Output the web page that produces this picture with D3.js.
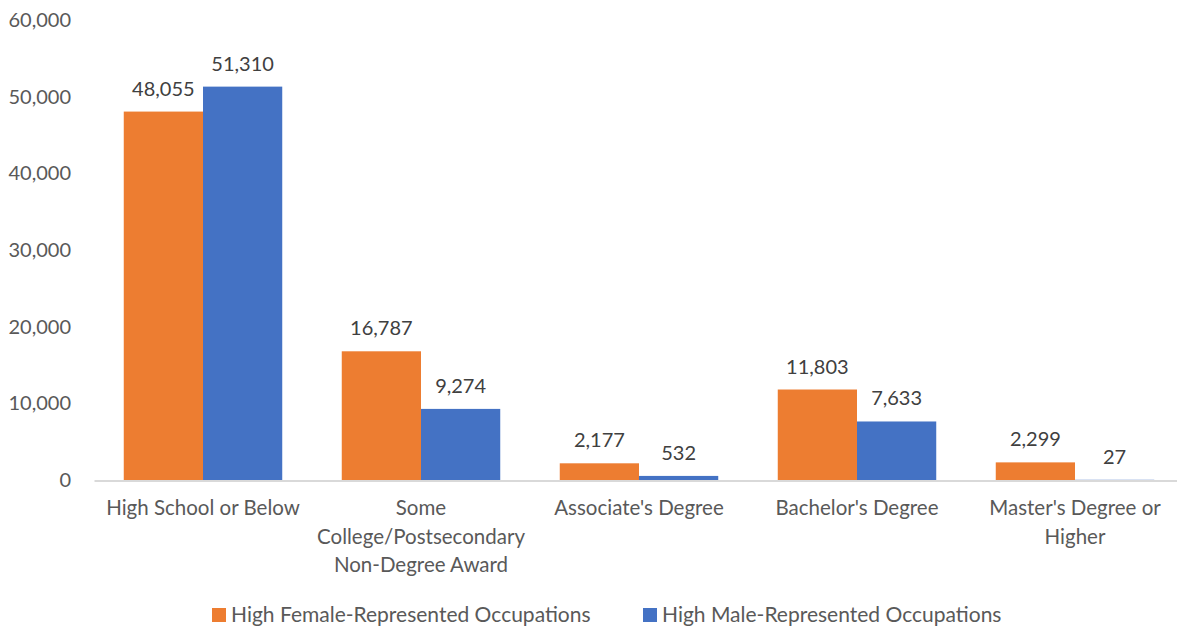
<!DOCTYPE html>
<html>
<head>
<meta charset="utf-8">
<script src="https://cdn.jsdelivr.net/npm/d3@7"></script>
<style>
  body { margin: 0; background: #fff; }
  svg { display: block; font-family: Lato, "Open Sans", sans-serif; }
</style>
</head>
<body>
<script>
// data
const categories = ["High School or Below", "Some College/Postsecondary Non-Degree Award", "Associate's Degree", "Bachelor's Degree", "Master's Degree or Higher"];
const seriesNames = ["High Female-Represented Occupations", "High Male-Represented Occupations"];
const female = [48055, 16787, 2177, 11803, 2299];
const male = [51310, 9274, 532, 7633, 27];
const yTicks = [0, 10000, 20000, 30000, 40000, 50000, 60000];
const colors = ["#ED7D31", "#4472C4"];

const width = 1177;
const height = 628;
const textColor = '#595959';

const svg = d3.select('body')
    .append('svg')
    .attr('width', width)
    .attr('height', height);

const xScale = d3.scaleBand()
    .domain(categories)
    .range([94, 1184])
    .paddingInner(0.273)
    .paddingOuter(0.1365);

const xInner = d3.scaleBand()
    .domain(seriesNames)
    .range([0, xScale.bandwidth()]);

const yScale = d3.scaleLinear()
    .domain([0, 60000])
    .range([480, 20]);

const fmt = d3.format(',');

// y axis, labels only
const yAxis = d3.axisLeft(yScale)
    .tickValues(yTicks)
    .tickSize(0)
    .tickPadding(23)
    .tickFormat(fmt);

const yG = svg.append('g')
    .attr('transform', 'translate(94,0)')
    .call(yAxis);
yG.select('.domain').remove();
yG.selectAll('text')
    .attr('fill', textColor)
    .style('font-size', '20px')
    .style('font-family', 'Lato, sans-serif');

// x axis line (drawn first so bars sit on top)
const xAxis = d3.axisBottom(xScale).tickSize(0).tickPadding(0).tickFormat('');
const xG = svg.append('g')
    .attr('transform', 'translate(0,480.5)')
    .call(xAxis);
xG.select('.domain').attr('stroke', '#D9D9D9').attr('stroke-width', 2);

const rows = categories.map((c, i) => ({ cat: c, values: [female[i], male[i]] }));

const groups = svg.selectAll('.grp')
    .data(rows)
    .enter()
    .append('g')
    .attr('class', 'grp')
    .attr('transform', d => 'translate(' + xScale(d.cat) + ',0)');

groups.selectAll('rect')
    .data(d => d.values.map((v, j) => ({ name: seriesNames[j], v: v, j: j })))
    .enter()
    .append('rect')
    .attr('x', d => xInner(d.name))
    .attr('y', d => yScale(d.v))
    .attr('width', xInner.bandwidth())
    .attr('height', d => yScale(0) - yScale(d.v))
    .attr('fill', d => colors[d.j]);

groups.selectAll('.lbl')
    .data(d => d.values.map((v, j) => ({ name: seriesNames[j], v: v })))
    .enter()
    .append('text')
    .attr('class', 'lbl')
    .attr('x', d => xInner(d.name) + xInner.bandwidth() / 2)
    .attr('y', d => yScale(d.v) - 16)
    .attr('text-anchor', 'middle')
    .attr('fill', '#404040')
    .style('font-size', '20px')
    .text(d => fmt(d.v));

// category labels, wrapped
function wrap(textSel, maxW) {
    textSel.each(function(d) {
        const t = d3.select(this);
        const words = d.split(' ');
        let line = [];
        let lines = [];
        const probe = t.append('tspan');
        words.forEach(w => {
            line.push(w);
            probe.text(line.join(' '));
            if (probe.node().getComputedTextLength() > maxW && line.length > 1) {
                line.pop();
                lines.push(line.join(' '));
                line = [w];
            }
        });
        lines.push(line.join(' '));
        probe.remove();
        lines.forEach((l, i) => {
            t.append('tspan')
                .attr('x', 0)
                .attr('dy', i === 0 ? 0 : 28.5)
                .text(l);
        });
    });
}

svg.selectAll('.cat')
    .data(categories)
    .enter()
    .append('text')
    .attr('class', 'cat')
    .attr('transform', d => 'translate(' + (xScale(d) + xScale.bandwidth() / 2) + ',515)')
    .attr('text-anchor', 'middle')
    .attr('fill', textColor)
    .style('font-size', '20.5px')
    .text('')
    .call(wrap, 210);

// legend
const legendX = [212, 643];
const legend = svg.selectAll('.leg')
    .data(seriesNames)
    .enter()
    .append('g')
    .attr('class', 'leg')
    .attr('transform', (d, i) => 'translate(' + legendX[i] + ',608)');

legend.append('rect')
    .attr('width', 14)
    .attr('height', 14)
    .attr('fill', (d, i) => colors[i]);

legend.append('text')
    .attr('x', 19)
    .attr('y', 14)
    .attr('fill', textColor)
    .style('font-size', '21px')
    .text(d => d);
</script>
</body>
</html>
